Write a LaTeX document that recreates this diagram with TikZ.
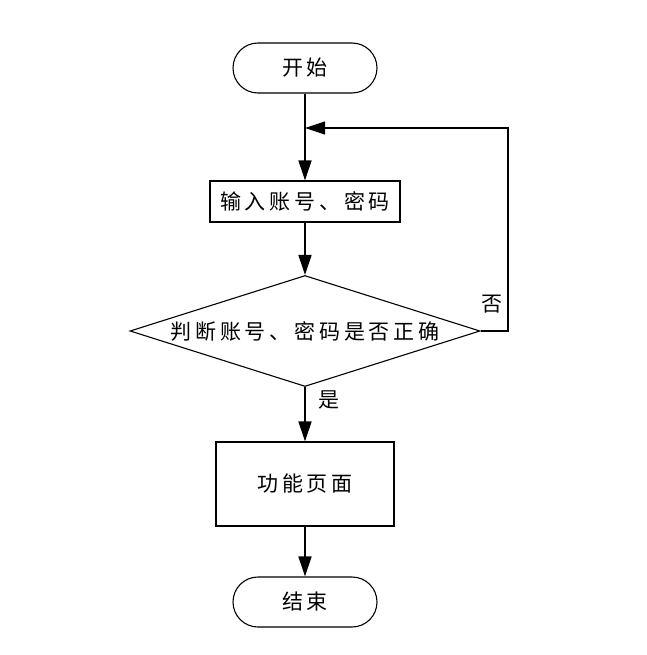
\documentclass[tikz,border=0pt]{standalone}
\usepackage{fontspec}
\newfontfamily\cjk[LetterSpace=18]{Noto Sans CJK SC}
\usetikzlibrary{shapes.geometric,arrows.meta}
\begin{document}
\begin{tikzpicture}[x=1pt,y=-1pt,
  every node/.style={font=\cjk\fontsize{21}{24}\selectfont, inner sep=0pt},
  term/.style={draw, line width=1.1pt, rounded corners=25pt, minimum width=144pt, minimum height=50pt},
  procbox/.style={draw, line width=1.1pt, rectangle},
  decbox/.style={draw, line width=1.1pt, diamond, aspect=3.15, minimum width=350pt, minimum height=111pt},
  flow/.style={line width=1.5pt, -{Triangle[length=20pt,width=13pt]}},
  lbl/.style={}]
\useasboundingbox (0,0) rectangle (646,655);
\node[term] (start) at (305,68) {开始};
\node[procbox, minimum width=190pt, minimum height=41pt] (input) at (305,201.5) {输入账号、密码};
\node[decbox] (dec) at (305,331) {判断账号、密码是否正确};
\node[procbox, minimum width=178pt, minimum height=84pt] (func) at (305,484) {功能页面};
\node[term] (end) at (305,602) {结束};
\coordinate (loopc) at (508,128);
\coordinate (join) at (305,128);
\draw[flow] (start) -- (input);
\draw[flow] (input) -- (dec);
\draw[flow] (dec) -- (func);
\draw[flow] (func) -- (end);
\draw[flow, line width=1.1pt] (dec.east) -| (loopc) -- (join);
\node[lbl] (no) at (492,304) {否};
\node[lbl] (yes) at (329,400) {是};
\end{tikzpicture}
\end{document}
